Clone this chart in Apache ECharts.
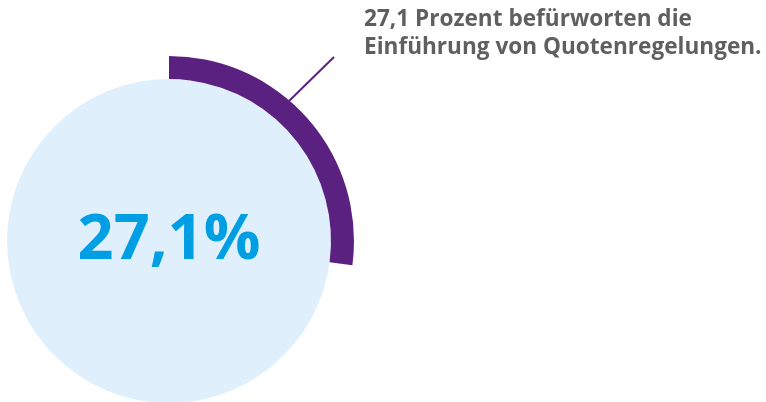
<!DOCTYPE html>
<html>
<head>
<meta charset="utf-8">
<script src="https://cdn.jsdelivr.net/npm/echarts@6/dist/echarts.min.js"></script>
<style>
  html, body { margin: 0; padding: 0; background: #fff; }
  #chart { width: 766px; height: 402px; }
</style>
</head>
<body>
<div id="chart"></div>
<script>
// Anteil der Befürworter (Prozent)
const shareLabel = "27,1 Prozent befürworten die\nEinführung von Quotenregelungen.";
const shareValue = 27.1;
const restValue = 100 - shareValue;
const centerText = "27,1%";

const chart = echarts.init(document.getElementById("chart"));

chart.setOption({
    animation: false,
    series: [
        {
            // hellblaue Scheibe
            type: "pie",
            center: [169, 241],
            radius: [0, 162],
            silent: true,
            label: {
                show: true,
                position: "center",
                formatter: centerText,
                fontFamily: "Open Sans",
                fontWeight: "bold",
                fontSize: 63,
                color: "#009fe3",
                padding: [0, 0, 26, 0]
            },
            labelLine: { show: false },
            itemStyle: { color: "#dff0fc" },
            data: [{ value: 1 }]
        },
        {
            // lila Ring
            type: "pie",
            center: [169, 241],
            radius: [162, 185],
            startAngle: 90,
            clockwise: true,
            silent: true,
            data: [
                {
                    value: shareValue,
                    itemStyle: { color: "#5b2180" },
                    label: {
                        show: true,
                        formatter: shareLabel,
                        fontFamily: "Open Sans",
                        fontWeight: "bold",
                        fontSize: 22.6,
                        lineHeight: 28,
                        color: "#5f5f5f"
                    },
                    labelLine: {
                        show: true,
                        lineStyle: { color: "#5b2180", width: 2 }
                    }
                },
                {
                    value: restValue,
                    itemStyle: { color: "rgba(0,0,0,0)" },
                    label: { show: false },
                    labelLine: { show: false }
                }
            ],
            labelLayout: function (params) {
                if (params.dataIndex !== 0) return {};
                return {
                    x: 364,
                    y: 6,
                    align: "left",
                    verticalAlign: "top",
                    labelLinePoints: [[289, 101], [334, 57], [334, 57]]
                };
            }
        }
    ]
});
</script>
</body>
</html>
